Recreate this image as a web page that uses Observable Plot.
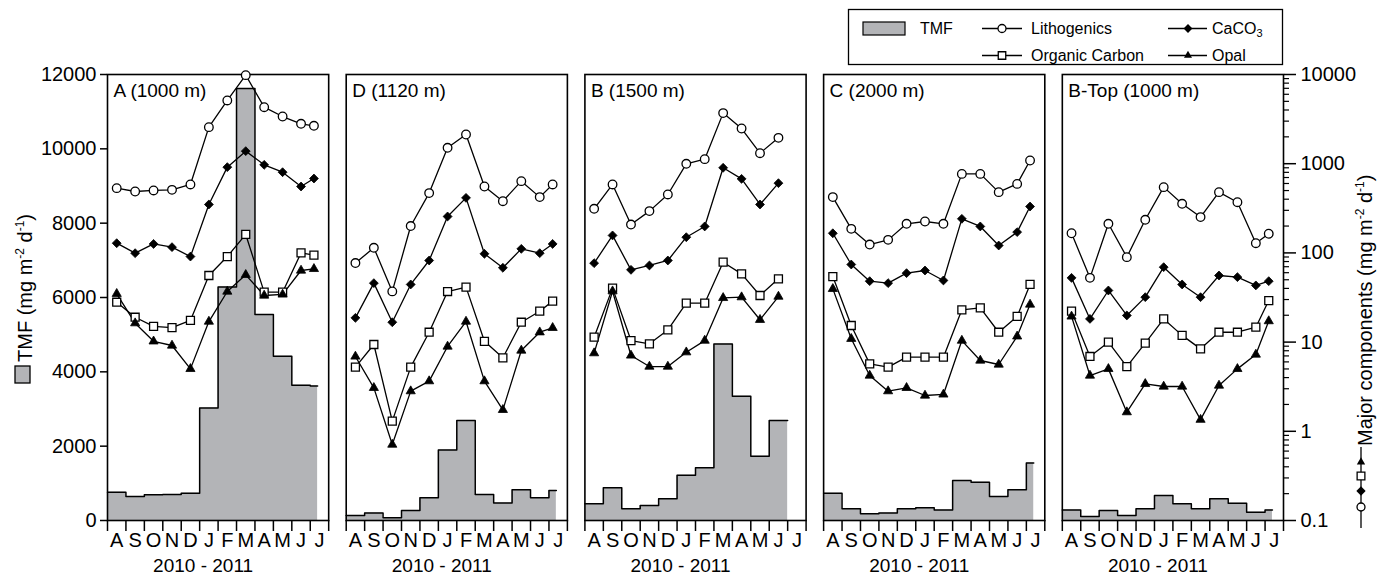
<!DOCTYPE html>
<html><head><meta charset="utf-8">
<script src="https://cdn.jsdelivr.net/npm/d3@7"></script>
<script src="https://cdn.jsdelivr.net/npm/@observablehq/plot@0.6"></script>
<style>
body{margin:0;background:#fff;}
#wrap{position:relative;width:1389px;height:580px;font-family:"Liberation Sans",Arial,Helvetica,sans-serif;}
#wrap > svg{position:absolute;left:0;top:0;}
</style></head><body><div id="wrap"></div>
<script>
// ---------- data ----------
const panels = ["A (1000 m)", "D (1120 m)", "B (1500 m)", "C (2000 m)", "B-Top (1000 m)"];
const monthLabels = ["A","S","O","N","D","J","F","M","A","M","J","J"];
const yearLabel = "2010 - 2011";
// sampling-cup edges in months since 1 Aug 2010
const cupEdges12 = [0,1,2,3,4,5,6,7,8,9,10,11,11.4];
const cupEdges11 = [0,1,2,3,4,5,6,7,8,9,10,11];
const cupEdges = [cupEdges12, cupEdges12, cupEdges11, cupEdges12, cupEdges12];

// Total mass flux (mg m-2 d-1)
const tmfA    = [760, 645, 695, 700, 735, 3030, 6280, 11620, 5540, 4420, 3640, 3620];
const tmfD    = [135, 200, 75, 270, 610, 1900, 2690, 700, 470, 825, 610, 810];
const tmfB    = [450, 880, 315, 405, 585, 1220, 1420, 4750, 3340, 1730, 2690];
const tmfC    = [735, 315, 180, 205, 315, 340, 285, 1075, 1030, 645, 825, 1545];
const tmfBTop = [285, 110, 270, 135, 315, 675, 450, 315, 585, 465, 225, 285];

// Lithogenics
const lithoA    = [532, 488, 501, 509, 585, 2570, 5115, 9830, 4300, 3380, 2800, 2660];
const lithoD    = [77, 114, 37, 200, 468, 1507, 2125, 555, 380, 637, 422, 585];
const lithoB    = [312, 585, 208, 294, 452, 997, 1125, 3690, 2480, 1312, 1950];
const lithoC    = [422, 186, 124, 140, 212, 225, 212, 769, 769, 480, 594, 1086];
const lithoBTop = [166, 52.5, 212, 89.6, 235, 546, 355, 252, 480, 370, 128.5, 164];

// CaCO3
const caco3A    = [128.5, 99.3, 126, 116, 91, 349, 915, 1383, 971, 803, 555, 682];
const caco3D    = [18.7, 45.8, 16.7, 44.3, 82.2, 256, 414, 97.7, 68.1, 111, 99.3, 126];
const caco3B    = [76.7, 157, 64.6, 72.3, 82.2, 150, 198, 900, 676, 349, 605];
const caco3C    = [166, 74.1, 48.2, 45.8, 59.3, 63.5, 49.1, 241, 198, 121, 171, 331];
const caco3BTop = [52.5, 18.2, 37.9, 19.9, 31.9, 69.2, 44.3, 31.9, 55.8, 53.5, 43.2, 48.2];

// Organic carbon
const ocA    = [28.0, 19.0, 15.0, 14.5, 17.5, 55.8, 91, 161, 36.3, 36.3, 100, 94.3];
const ocD    = [5.24, 9.4, 1.30, 5.24, 12.9, 36.9, 41.3, 10.2, 6.67, 16.7, 22.2, 28.8];
const ocB    = [11.35, 40.3, 10.4, 9.57, 13.7, 27.3, 27.3, 78.7, 58.2, 33.3, 51.2];
const ocC    = [54.3, 15.35, 5.70, 5.24, 6.78, 6.78, 6.78, 23.0, 24.2, 12.9, 19.4, 44.3];
const ocBTop = [22.2, 6.9, 9.98, 5.32, 9.73, 18.2, 11.9, 8.4, 12.9, 12.9, 14.7, 29.2];

// Opal
const opalA    = [34.8, 16.3, 10.2, 9.16, 5.01, 17.0, 36.9, 56.8, 33.3, 34.2, 63.5, 66.2];
const opalD    = [6.9, 3.07, 0.71, 2.82, 3.65, 8.93, 17.0, 3.65, 1.74, 8.05, 12.9, 14.45];
const opalB    = [7.52, 37.2, 7.08, 5.32, 5.32, 7.7, 10.4, 31.3, 31.9, 17.8, 32.4];
const opalC    = [39.5, 10.9, 4.22, 2.82, 3.07, 2.52, 2.59, 10.4, 6.22, 5.61, 11.6, 26.4];
const opalBTop = [19.4, 4.22, 5.01, 1.64, 3.40, 3.18, 3.18, 1.35, 3.26, 5.01, 7.26, 17.2];

const tmfTicks = [0, 2000, 4000, 6000, 8000, 10000, 12000];
const logTicks = [0.1, 1, 10, 100, 1000, 10000];

// ---------- build tables ----------
const tmfSets = [tmfA, tmfD, tmfB, tmfC, tmfBTop];
const seriesSets = {
  litho: [lithoA, lithoD, lithoB, lithoC, lithoBTop],
  caco3: [caco3A, caco3D, caco3B, caco3C, caco3BTop],
  oc:    [ocA, ocD, ocB, ocC, ocBTop],
  opal:  [opalA, opalD, opalB, opalC, opalBTop]
};
const stepRows = [];
panels.forEach((p, k) => {
  const e = cupEdges[k], v = tmfSets[k];
  v.forEach((val, i) => stepRows.push({panel: p, x: e[i], v: val}));
  stepRows.push({panel: p, x: e[v.length], v: v[v.length - 1]});
});
function compRows(name) {
  const rows = [];
  panels.forEach((p, k) => {
    const e = cupEdges[k];
    seriesSets[name][k].forEach((val, i) => rows.push({panel: p, x: (e[i] + e[i + 1]) / 2, v: val}));
  });
  return rows;
}
const monthCenters = monthLabels.map((_, i) => i + 0.5);
const edgeTicks = d3.range(0, 13);
const logMinor = [];
[0.1, 1, 10, 100, 1000].forEach(b => { for (let m = 2; m <= 9; m++) logMinor.push(+(b * m).toPrecision(3)); });

// ---------- layout ----------
const GRAY = "#b3b4b7";
const FONT = '"Liberation Sans", Arial, Helvetica, sans-serif';
const W = 1389, H = 580;
const common = {
  width: W, height: H,
  marginLeft: 107, marginRight: 106, marginTop: 74, marginBottom: 60,
  fx: {domain: panels, paddingInner: 0.0734, paddingOuter: 0, round: false, axis: null, label: null},
  style: {fontFamily: FONT, fontSize: "20px", background: "transparent", overflow: "visible", color: "black"}
};

const plotTMF = Plot.plot({
  ...common,
  x: {domain: [0, 12]},
  y: {domain: [0, 12000]},
  marks: [
    Plot.areaY(stepRows, {fx: "panel", x: "x", y: "v", curve: "step-after", fill: GRAY}),
    Plot.line(stepRows, {fx: "panel", x: "x", y: "v", curve: "step-after", stroke: "black", strokeWidth: 1.5}),
    Plot.frame({stroke: "black", strokeWidth: 1.6}),
    Plot.axisY({anchor: "left", ticks: tmfTicks, tickSize: 7, tickPadding: 4, strokeWidth: 1.5, label: null, fontSize: 20, tickFormat: d => String(d)}),
    Plot.axisX({ticks: edgeTicks, tickSize: 11, tickFormat: () => "", strokeWidth: 1.5, label: null}),
    Plot.axisX({ticks: monthCenters, tickSize: 0, tickPadding: 12, tickFormat: d => monthLabels[Math.floor(d)], label: null, fontSize: 20}),
    Plot.text(panels, {fx: d => d, text: d => d, frameAnchor: "top-left", dx: 6, dy: 9, lineAnchor: "top", textAnchor: "start", fontSize: 19}),
    Plot.text(panels, {fx: d => d, text: () => yearLabel, frameAnchor: "bottom", dx: -15, dy: 38, lineAnchor: "top", fontSize: 19})
  ]
});

const lineOpts = {fx: "panel", x: "x", y: "v", stroke: "black", strokeWidth: 1.3};
const plotComp = Plot.plot({
  ...common,
  x: {domain: [0, 12], axis: null},
  y: {type: "log", domain: [0.1, 10000]},
  marks: [
    Plot.line(compRows("litho"), lineOpts),
    Plot.line(compRows("caco3"), lineOpts),
    Plot.line(compRows("oc"), lineOpts),
    Plot.line(compRows("opal"), lineOpts),
    Plot.dot(compRows("litho"), {fx: "panel", x: "x", y: "v", symbol: "circle", r: 4.3, fill: "white", stroke: "black", strokeWidth: 1.3}),
    Plot.dot(compRows("caco3"), {fx: "panel", x: "x", y: "v", symbol: "diamond2", r: 4, fill: "black", stroke: "black", strokeWidth: 0.8}),
    Plot.dot(compRows("oc"), {fx: "panel", x: "x", y: "v", symbol: "square", r: 4.5, fill: "white", stroke: "black", strokeWidth: 1.3}),
    Plot.dot(compRows("opal"), {fx: "panel", x: "x", y: "v", symbol: "triangle", r: 3.4, fill: "black", stroke: "black", strokeWidth: 0.8}),
    Plot.axisY({anchor: "right", ticks: logTicks, tickSize: 12, tickPadding: 5, strokeWidth: 1.5, label: null, fontSize: 20, tickFormat: d => String(d)}),
    Plot.axisY({anchor: "right", ticks: logMinor, tickSize: 5, strokeWidth: 1.2, label: null, tickFormat: () => ""})
  ]
});

const wrap = document.getElementById("wrap");
wrap.appendChild(plotTMF);
wrap.appendChild(plotComp);

// ---------- axis titles and legends ----------
const ov = d3.select(wrap).append("svg").attr("width", W).attr("height", H)
  .style("font-family", FONT).style("pointer-events", "none");

function unitTitle(x, y, main) {
  const t = ov.append("text").attr("transform", `translate(${x},${y}) rotate(-90)`).attr("font-size", 20).attr("fill", "black");
  t.append("tspan").text(main + " (mg m");
  t.append("tspan").attr("dy", -8).attr("font-size", 12).text("-2");
  t.append("tspan").attr("dy", 8).text(" d");
  t.append("tspan").attr("dy", -8).attr("font-size", 12).text("-1");
  t.append("tspan").attr("dy", 8).text(")");
}
// left title with swatch
ov.append("rect").attr("x", 15).attr("y", 366).attr("width", 15).attr("height", 17)
  .attr("fill", GRAY).attr("stroke", "black").attr("stroke-width", 1.3);
unitTitle(31.5, 362, "TMF");
// right title with symbol key
unitTitle(1371.5, 446, "Major components");
ov.append("line").attr("x1", 1361).attr("x2", 1361).attr("y1", 447).attr("y2", 528).attr("stroke", "black").attr("stroke-width", 1.3);
const sym = (type, size) => d3.symbol().type(type).size(size)();
ov.append("path").attr("d", sym(d3.symbolTriangle, 30)).attr("transform", "translate(1361,462)").attr("fill", "black");
ov.append("path").attr("d", sym(d3.symbolSquare, 60)).attr("transform", "translate(1361,476)").attr("fill", "white").attr("stroke", "black").attr("stroke-width", 1.3);
ov.append("path").attr("d", sym(d3.symbolDiamond2, 55)).attr("transform", "translate(1361,491)").attr("fill", "black");
ov.append("circle").attr("cx", 1361).attr("cy", 507).attr("r", 4).attr("fill", "white").attr("stroke", "black").attr("stroke-width", 1.3);

// top legend
const lg = ov.append("g").attr("font-size", 16).attr("fill", "black");
lg.append("rect").attr("x", 848.5).attr("y", 9.5).attr("width", 434).attr("height", 55)
  .attr("fill", "white").attr("stroke", "black").attr("stroke-width", 1.3);
lg.append("rect").attr("x", 863).attr("y", 22).attr("width", 42).attr("height", 13)
  .attr("fill", GRAY).attr("stroke", "black").attr("stroke-width", 1.2);
lg.append("text").attr("x", 920).attr("y", 34).text("TMF");
const r1 = 28.5, r2 = 55.5;
function keyLine(x1, x2, y) {
  lg.append("line").attr("x1", x1).attr("x2", x2).attr("y1", y).attr("y2", y).attr("stroke", "black").attr("stroke-width", 1.3);
}
keyLine(982, 1022, r1);
lg.append("circle").attr("cx", 1002).attr("cy", r1).attr("r", 4).attr("fill", "white").attr("stroke", "black").attr("stroke-width", 1.3);
lg.append("text").attr("x", 1031).attr("y", r1 + 5.5).text("Lithogenics");
keyLine(982, 1022, r2);
lg.append("path").attr("d", sym(d3.symbolSquare, 56)).attr("transform", `translate(1002,${r2})`).attr("fill", "white").attr("stroke", "black").attr("stroke-width", 1.3);
lg.append("text").attr("x", 1031).attr("y", r2 + 5.5).text("Organic Carbon");
keyLine(1168, 1207, r1);
lg.append("path").attr("d", sym(d3.symbolDiamond2, 50)).attr("transform", `translate(1188,${r1})`).attr("fill", "black");
const ct = lg.append("text").attr("x", 1212).attr("y", r1 + 5.5);
ct.append("tspan").text("CaCO");
ct.append("tspan").attr("font-size", 11).attr("dy", 3).text("3");
keyLine(1168, 1207, r2);
lg.append("path").attr("d", sym(d3.symbolTriangle, 28)).attr("transform", `translate(1188,${r2})`).attr("fill", "black");
lg.append("text").attr("x", 1212).attr("y", r2 + 5.5).text("Opal");
</script>
</body></html>
